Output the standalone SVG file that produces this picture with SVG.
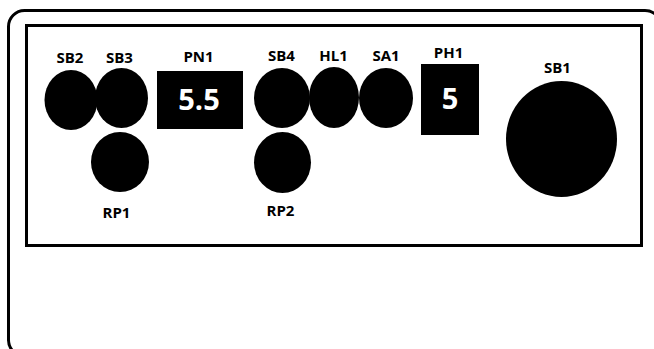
<svg xmlns="http://www.w3.org/2000/svg" width="654" height="349" viewBox="0 0 654 349">
<style>
.lbl{font-family:"Open Sans","Liberation Sans",sans-serif;font-weight:bold;font-size:15px;fill:#000;text-anchor:middle}
.val{font-family:"Open Sans","Liberation Sans",sans-serif;font-weight:bold;font-size:29px;fill:#fff;text-anchor:middle}
.blk{fill:#000}
</style>
<rect width="654" height="349" fill="#fff"/>
<rect x="8.5" y="10.5" width="652.5" height="345.5" rx="16" fill="none" stroke="#000" stroke-width="3"/>
<rect x="26.5" y="25.5" width="615" height="220" fill="none" stroke="#000" stroke-width="3"/>
<g id="SB2"><ellipse class="blk" cx="71" cy="100" rx="26.5" ry="30"/><text class="lbl" x="70" y="63">SB2</text></g>
<g id="SB3"><ellipse class="blk" cx="121.5" cy="98" rx="26.5" ry="30"/><text class="lbl" x="119.5" y="63">SB3</text></g>
<g id="RP1"><ellipse class="blk" cx="120" cy="162" rx="29" ry="30"/><text class="lbl" x="116.5" y="218">RP1</text></g>
<g id="PN1"><rect class="blk" x="157" y="71" width="86" height="58"/><text class="lbl" x="198.5" y="62">PN1</text><text class="val" x="199" y="110">5.5</text></g>
<g id="SB4"><ellipse class="blk" cx="282" cy="98" rx="28" ry="30"/><text class="lbl" x="281.5" y="61">SB4</text></g>
<g id="RP2"><ellipse class="blk" cx="282.5" cy="162.5" rx="28.5" ry="30.5"/><text class="lbl" x="280.5" y="216">RP2</text></g>
<g id="HL1"><ellipse class="blk" cx="334" cy="97.5" rx="25" ry="30.5"/><text class="lbl" x="333.5" y="61">HL1</text></g>
<g id="SA1"><ellipse class="blk" cx="386" cy="98" rx="27" ry="30"/><text class="lbl" x="386" y="61">SA1</text></g>
<g id="PH1"><rect class="blk" x="421" y="64" width="58" height="71"/><text class="lbl" x="448.5" y="58">PH1</text><text class="val" x="450" y="109">5</text></g>
<g id="SB1"><ellipse class="blk" cx="561.5" cy="139" rx="55.5" ry="58"/><text class="lbl" x="557.5" y="73">SB1</text></g>
<g id="connectors"></g>
</svg>
